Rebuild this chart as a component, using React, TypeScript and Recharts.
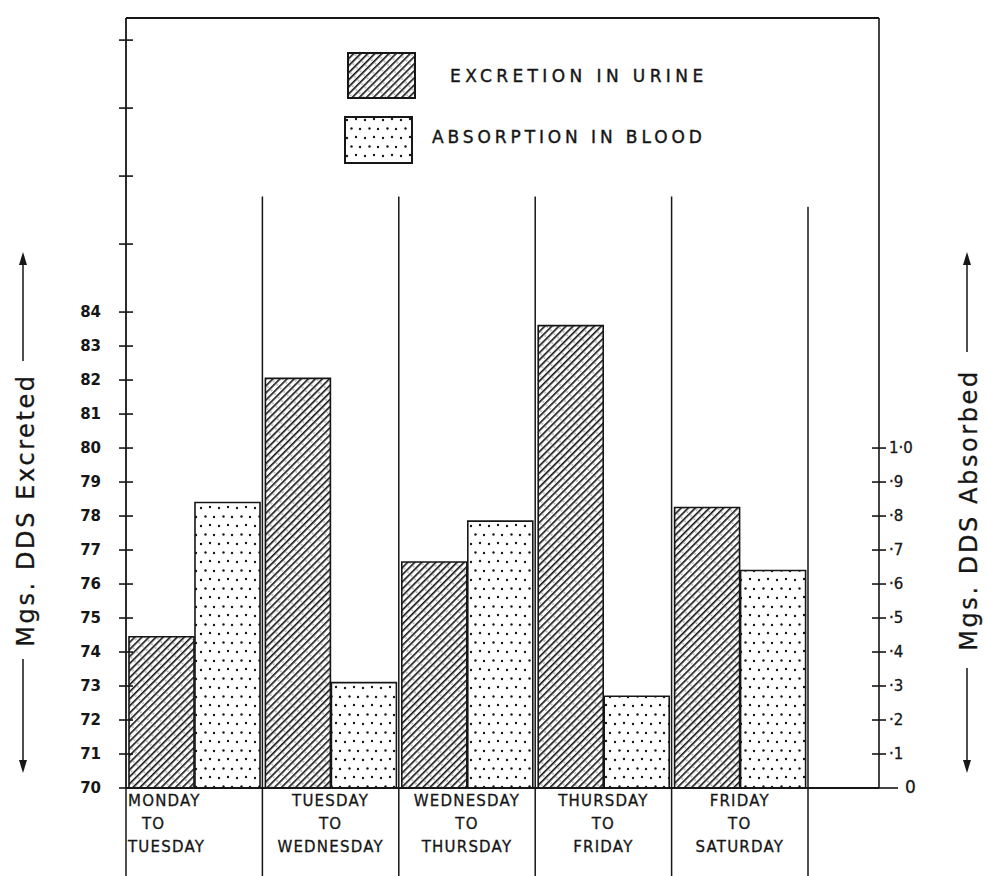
import { BarChart, Bar, XAxis, YAxis, ReferenceLine, Legend } from "recharts";

// values
const periods = [
  "MONDAY TO TUESDAY",
  "TUESDAY TO WEDNESDAY",
  "WEDNESDAY TO THURSDAY",
  "THURSDAY TO FRIDAY",
  "FRIDAY TO SATURDAY",
];
const excretedMg = [74.45, 82.05, 76.65, 83.6, 78.25];
const absorbedMg = [0.84, 0.31, 0.785, 0.27, 0.64];

const leftTicks = [70, 71, 72, 73, 74, 75, 76, 77, 78, 79, 80, 81, 82, 83, 84, 86, 88, 90, 92];
const rightTicks = [0, 0.1, 0.2, 0.3, 0.4, 0.5, 0.6, 0.7, 0.8, 0.9, 1.0];
const rightTickLabels = ["0", "·1", "·2", "·3", "·4", "·5", "·6", "·7", "·8", "·9", "1·0"];

const LEFT_MIN = 70;
const LEFT_MAX = 92.65;
const RIGHT_MAX = (LEFT_MAX - LEFT_MIN) / 10;

const INK = "#161616";
const FONT = "'DejaVu Sans', sans-serif";

const data = periods.map((p, i) => ({ period: p, excreted: excretedMg[i], absorbed: absorbedMg[i] }));

const LeftTick = (p: any) => {
  const { x, y, payload } = p;
  const v = payload.value;
  return (
    <g>
      <line x1={x - 7} x2={x + 7} y1={y} y2={y} stroke={INK} strokeWidth={1.6} />
      {v <= 84 && (
        <text x={x - 25} y={y} dy={5} textAnchor="end" fontFamily={FONT} fontWeight="bold" fontSize={15} fill={INK}>
          {v}
        </text>
      )}
    </g>
  );
};

const RightTick = (p: any) => {
  const { x, y, payload, index } = p;
  const zero = payload.value === 0;
  return (
    <g>
      <line x1={zero ? x : x - 7} x2={zero ? x + 19 : x + 7} y1={y} y2={y} stroke={INK} strokeWidth={1.6} />
      <text
        x={zero ? x + 26 : x + 10}
        y={y}
        dy={5}
        textAnchor="start"
        fontFamily={FONT}
        fontSize={zero ? 17 : 15}
        stroke={INK}
        strokeWidth={0.3}
        fill={INK}
      >
        {rightTickLabels[index]}
      </text>
    </g>
  );
};

const PeriodTick = (p: any) => {
  const { x, y, payload, index } = p;
  const [from, to] = String(payload.value).split(" TO ");
  const half = payload.offset || 68;
  // first period is written flush with the left axis in the original
  const first = index === 0;
  const ax = first ? x - half + 2 : x;
  const anchor = first ? "start" : "middle";
  return (
    <text
      y={y}
      textAnchor={anchor}
      fontFamily={FONT}
      fontSize={15}
      letterSpacing={1.2}
      stroke={INK}
      strokeWidth={0.3}
      fill={INK}
    >
      <tspan x={ax} dy={18}>{from}</tspan>
      <tspan x={first ? ax + 14 : ax} dy={23}>TO</tspan>
      <tspan x={ax} dy={23}>{to}</tspan>
    </text>
  );
};

const legendText = {
  position: "absolute" as const,
  fontSize: 17,
  whiteSpace: "nowrap" as const,
  WebkitTextStroke: "0.4px " + INK,
};

const LegendBlock = () => (
  <div style={{ position: "relative", width: 420, height: 130, fontFamily: FONT, color: INK }}>
    <svg width={72} height={50} style={{ position: "absolute", left: 7, top: 6 }}>
      <rect x={1} y={1} width={67} height={45} fill="url(#hatch)" stroke={INK} strokeWidth={2} />
    </svg>
    <span style={{ ...legendText, left: 110, top: 20, letterSpacing: 4.4 }}>EXCRETION IN URINE</span>
    <svg width={72} height={50} style={{ position: "absolute", left: 4, top: 70 }}>
      <rect x={1} y={1} width={67} height={46} fill="url(#dots)" stroke={INK} strokeWidth={2} />
    </svg>
    <span style={{ ...legendText, left: 92, top: 81, letterSpacing: 3.9 }}>ABSORPTION IN BLOOD</span>
  </div>
);

// rotated axis title with arrow lines on both ends
const SideTitle = ({ x, lineX, text, cy, half }: any) => (
  <g>
    <line x1={lineX} x2={lineX} y1={258} y2={cy - half - 6} stroke={INK} strokeWidth={1.5} />
    <line x1={lineX} x2={lineX} y1={cy + half + 6} y2={766} stroke={INK} strokeWidth={1.5} />
    <polygon points={`${lineX},252 ${lineX - 4},265 ${lineX + 4},265`} fill={INK} />
    <polygon points={`${lineX},773 ${lineX - 4},760 ${lineX + 4},760`} fill={INK} />
    <text
      x={x}
      y={cy}
      transform={`rotate(-90 ${x} ${cy})`}
      textAnchor="middle"
      fontFamily={FONT}
      fontSize={24}
      letterSpacing={2.6}
      stroke={INK}
      strokeWidth={0.3}
      fill={INK}
    >
      {text}
    </text>
  </g>
);

export default function App() {
  return (
    <div style={{ position: "absolute", left: 0, top: 0, width: 987, height: 876, background: "#fff" }}>
      <BarChart
        width={987}
        height={876}
        data={data}
        margin={{ top: 18, right: 0, bottom: 0, left: 0 }}
        barCategoryGap={3}
        barGap={1}
      >
        <defs>
          <pattern id="hatch" patternUnits="userSpaceOnUse" width={5} height={8} patternTransform="rotate(45)">
            <rect width={5} height={8} fill="#fff" />
            <line x1={0.8} y1={0} x2={0.8} y2={8} stroke={INK} strokeWidth={1.7} />
            <circle cx={3.2} cy={4} r={0.6} fill={INK} />
          </pattern>
          <pattern id="dots" patternUnits="userSpaceOnUse" width={18} height={18}>
            <rect width={18} height={18} fill="#fff" />
            <circle cx={3} cy={4} r={1.2} fill={INK} />
            <circle cx={12} cy={3} r={1.2} fill={INK} />
            <circle cx={7.5} cy={12.5} r={1.2} fill={INK} />
            <circle cx={16} cy={13} r={1.2} fill={INK} />
          </pattern>
        </defs>

        <XAxis
          xAxisId="cat"
          dataKey="period"
          height={88}
          padding={{ left: 0, right: 71 }}
          axisLine={{ stroke: INK, strokeWidth: 1.8 }}
          tickLine={false}
          tickSize={0}
          tickMargin={0}
          interval={0}
          tick={PeriodTick}
        />

        <ReferenceLine yAxisId="left" xAxisId="cat" y={LEFT_MAX} stroke={INK} strokeWidth={1.8} ifOverflow="visible" />
        {/* band separators, running down through the label row */}
        {periods.map((p, i) => (
          <ReferenceLine
            key={p}
            xAxisId="cat"
            yAxisId="left"
            position="start"
            segment={[
              { x: p, y: i === 0 ? 70 : 87.4 },
              { x: p, y: 67.4 },
            ]}
            stroke={INK}
            strokeWidth={1.5}
            ifOverflow="visible"
          />
        ))}
        <ReferenceLine
          xAxisId="cat"
          yAxisId="left"
          position="end"
          segment={[
            { x: periods[periods.length - 1], y: 87.1 },
            { x: periods[periods.length - 1], y: 67.4 },
          ]}
          stroke={INK}
          strokeWidth={1.5}
          ifOverflow="visible"
        />

        <Legend
          layout="vertical"
          align="center"
          verticalAlign="middle"
          content={LegendBlock}
          wrapperStyle={{ left: 340, top: 46, width: 420 }}
        />

        <Bar
          xAxisId="cat"
          yAxisId="left"
          dataKey="excreted"
          name="Excretion in Urine"
          fill="url(#hatch)"
          stroke={INK}
          strokeWidth={1.6}
          isAnimationActive={false}
        />
        <Bar
          xAxisId="cat"
          yAxisId="right"
          dataKey="absorbed"
          name="Absorption in Blood"
          fill="url(#dots)"
          stroke={INK}
          strokeWidth={1.6}
          isAnimationActive={false}
        />

        <YAxis
          yAxisId="left"
          orientation="left"
          width={126}
          domain={[LEFT_MIN, LEFT_MAX]}
          ticks={leftTicks}
          interval={0}
          axisLine={{ stroke: INK, strokeWidth: 1.8 }}
          tickLine={false}
          tickSize={0}
          tickMargin={0}
          tick={LeftTick}
        />
        <YAxis
          yAxisId="right"
          orientation="right"
          width={108}
          domain={[0, RIGHT_MAX]}
          ticks={rightTicks}
          interval={0}
          axisLine={{ stroke: INK, strokeWidth: 1.6 }}
          tickLine={false}
          tickSize={0}
          tickMargin={0}
          tick={RightTick}
        />

        <SideTitle x={34} lineX={23} text="Mgs. DDS Excreted" cy={510} half={143} />
        <SideTitle x={977} lineX={967} text="Mgs. DDS Absorbed" cy={510} half={152} />
      </BarChart>
    </div>
  );
}
